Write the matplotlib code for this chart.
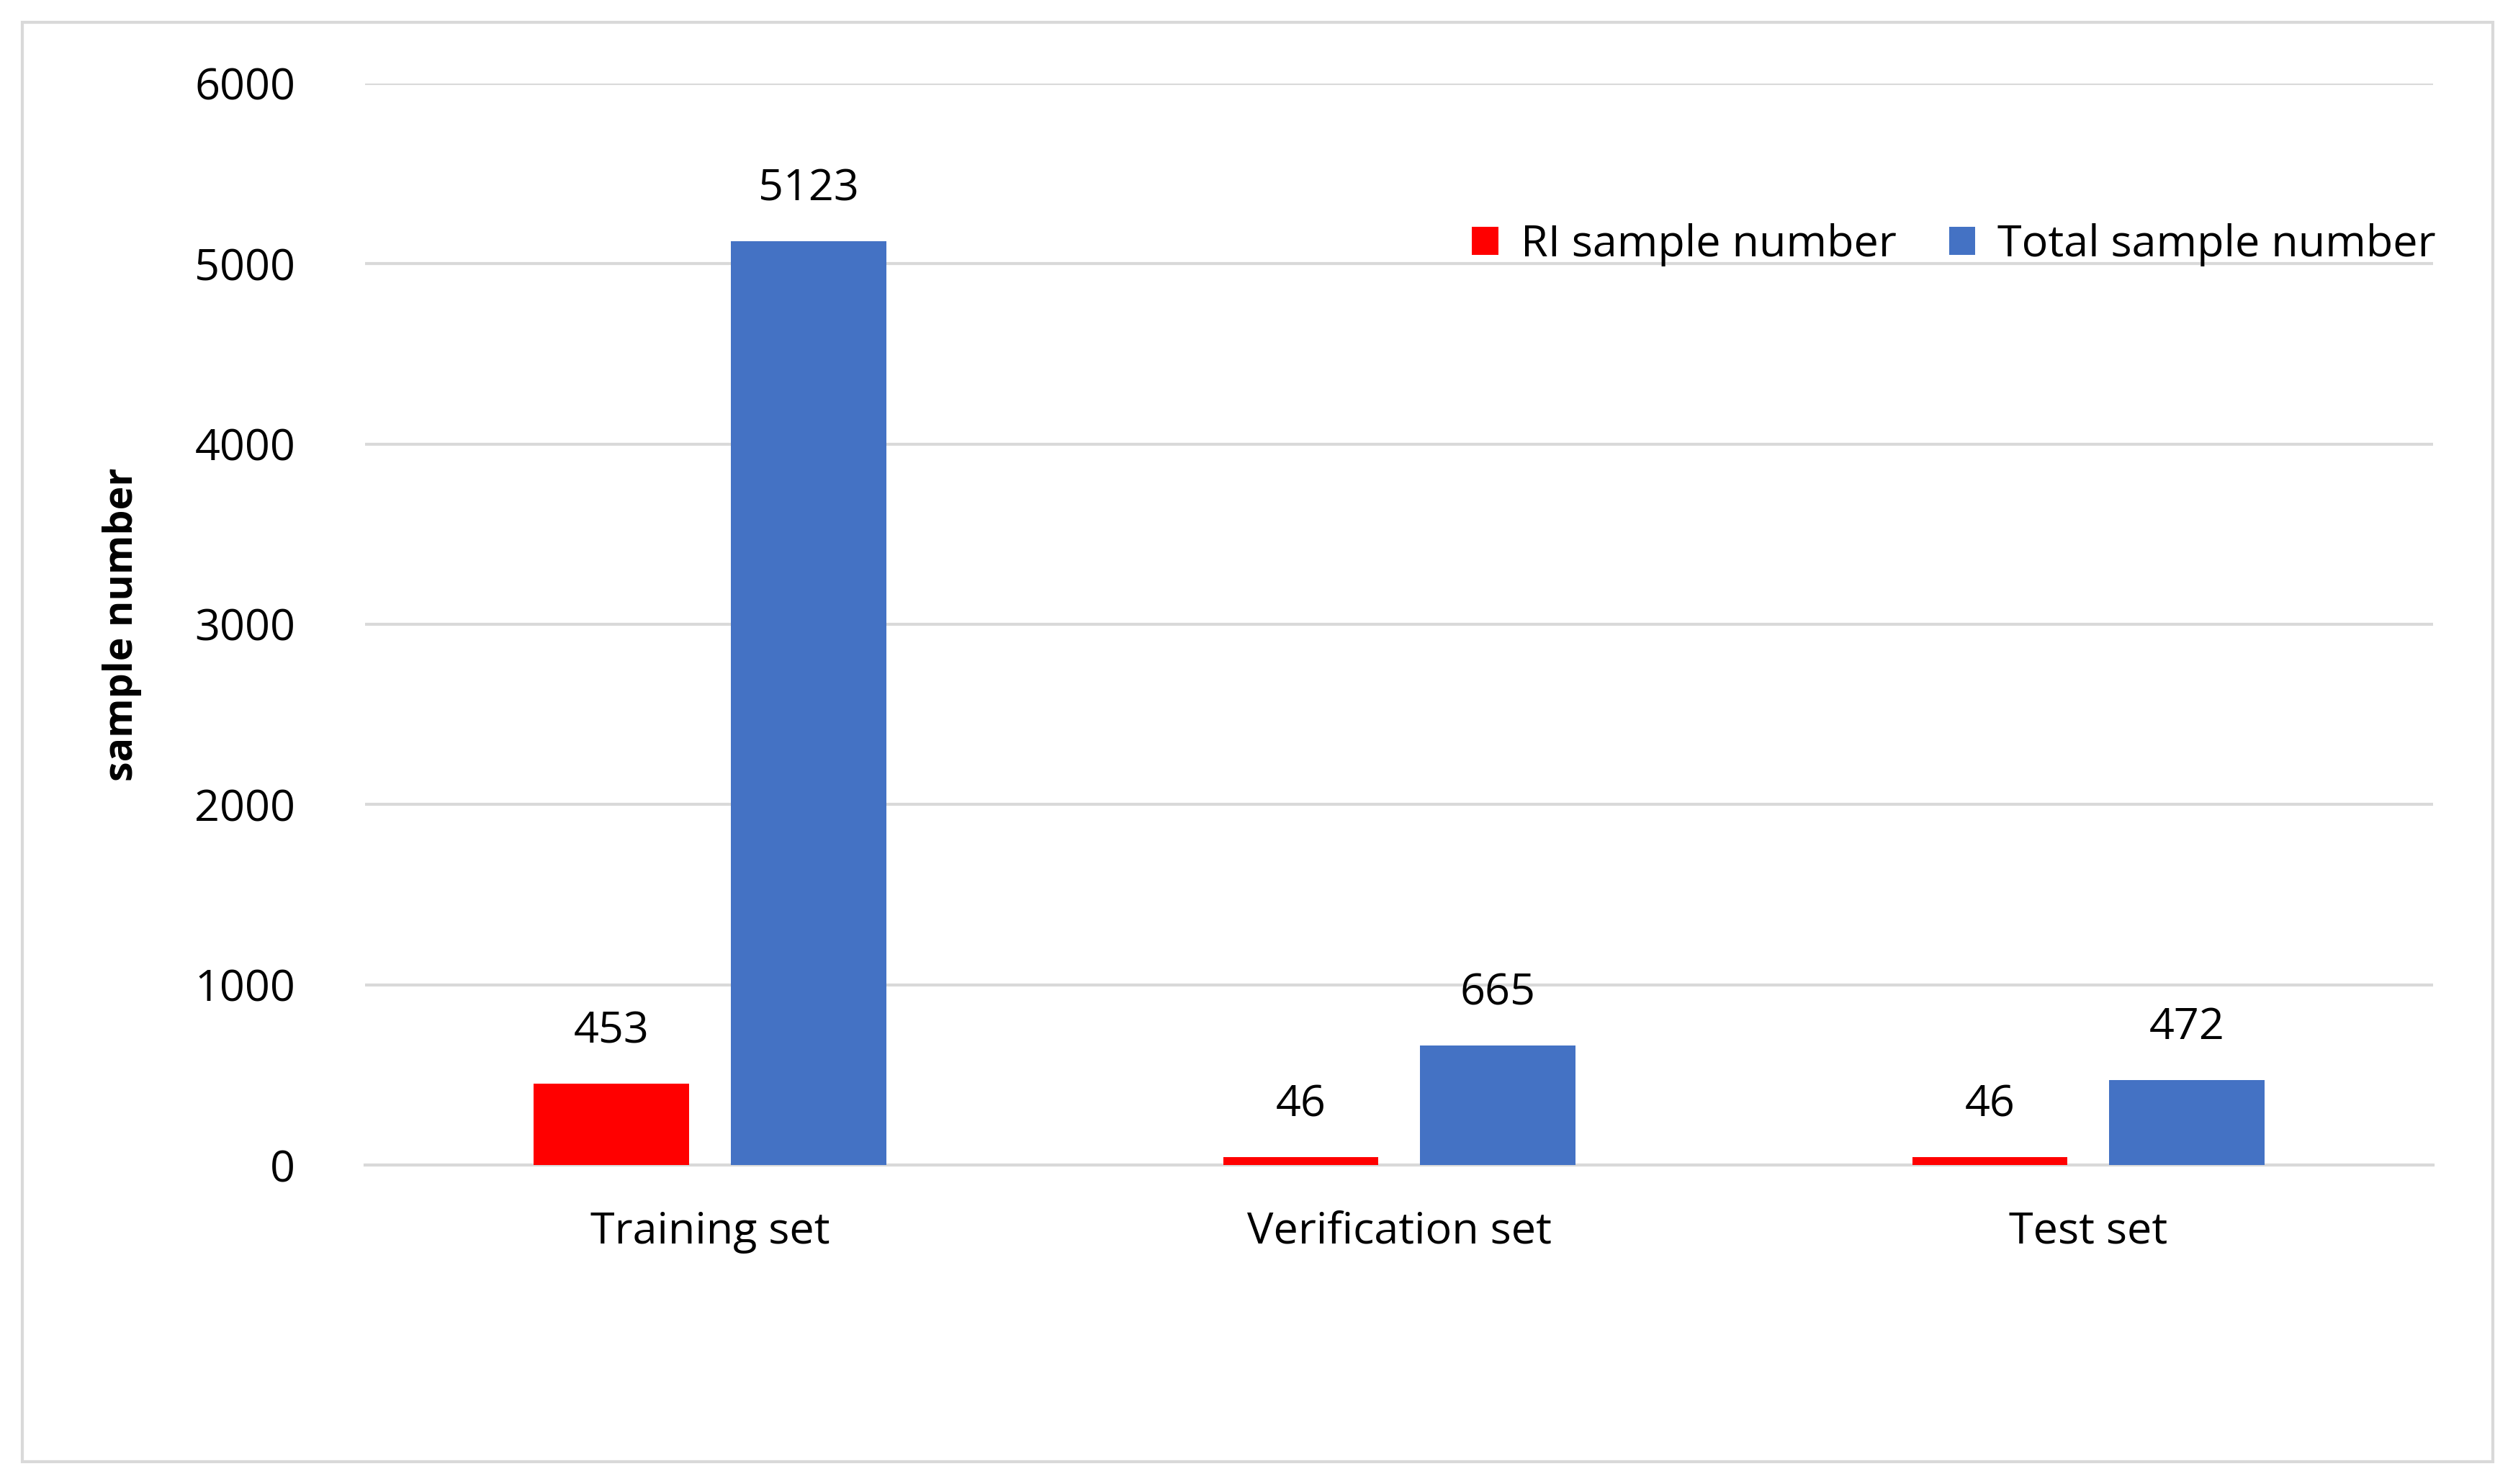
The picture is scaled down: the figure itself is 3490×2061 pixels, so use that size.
import matplotlib
matplotlib.use("Agg")
import matplotlib.pyplot as plt
import numpy as np
from matplotlib.patches import Rectangle

categories = ["Training set", "Verification set", "Test set"]
ri_values = [453, 46, 46]
total_values = [5123, 665, 472]
yticks = [0, 1000, 2000, 3000, 4000, 5000, 6000]

plt.rcParams['font.family'] = ['Open Sans', 'DejaVu Sans']
fig = plt.figure(figsize=(34.9, 20.61), dpi=100)
ax = fig.add_axes([0.1454, 0.2149, 0.8227, 0.7289])
x = np.arange(len(categories))
w = 0.225
off = 0.143
b1 = ax.bar(x - off, ri_values, w, color='#FF0000', label='RI sample number', zorder=3)
b2 = ax.bar(x + off, total_values, w, color='#4472C4', label='Total sample number', zorder=3)
for bars in (b1, b2):
    for r in bars:
        ax.text(r.get_x() + r.get_width()/2, r.get_height() + 170, f"{int(r.get_height())}",
                ha='center', va='bottom', fontsize=44, color='black')
ax.set_xlim(-0.5, 2.5)
ax.set_ylim(0, 6000)
ax.set_yticks(yticks)
ax.set_xticks(x)
ax.set_xticklabels(categories)
ax.tick_params(axis='both', length=0, labelsize=44, colors='black')
ax.tick_params(axis='x', pad=45)
ax.tick_params(axis='y', pad=70)
ax.grid(axis='y', color='#D9D9D9', linewidth=3, zorder=0)
for s in ['top', 'right', 'left']:
    ax.spines[s].set_visible(False)
ax.spines['bottom'].set_color('#D9D9D9')
ax.spines['bottom'].set_linewidth(3)
ax.set_ylabel('sample number', fontsize=40, fontweight='bold', labelpad=40)
ax.yaxis.set_label_coords(-0.108, 0.5)
fig.legend(handles=[b1, b2], loc='center right', bbox_to_anchor=(0.985, 0.835), ncol=2,
           frameon=False, fontsize=44, handlelength=0.6, handleheight=0.6,
           handletextpad=0.5, columnspacing=1.2)
fig.patches.append(Rectangle((0.009, 0.015), 0.983, 0.97, transform=fig.transFigure,
                             fill=False, edgecolor='#D9D9D9', linewidth=3))
fig.savefig('out.png', dpi=100, facecolor='white')
